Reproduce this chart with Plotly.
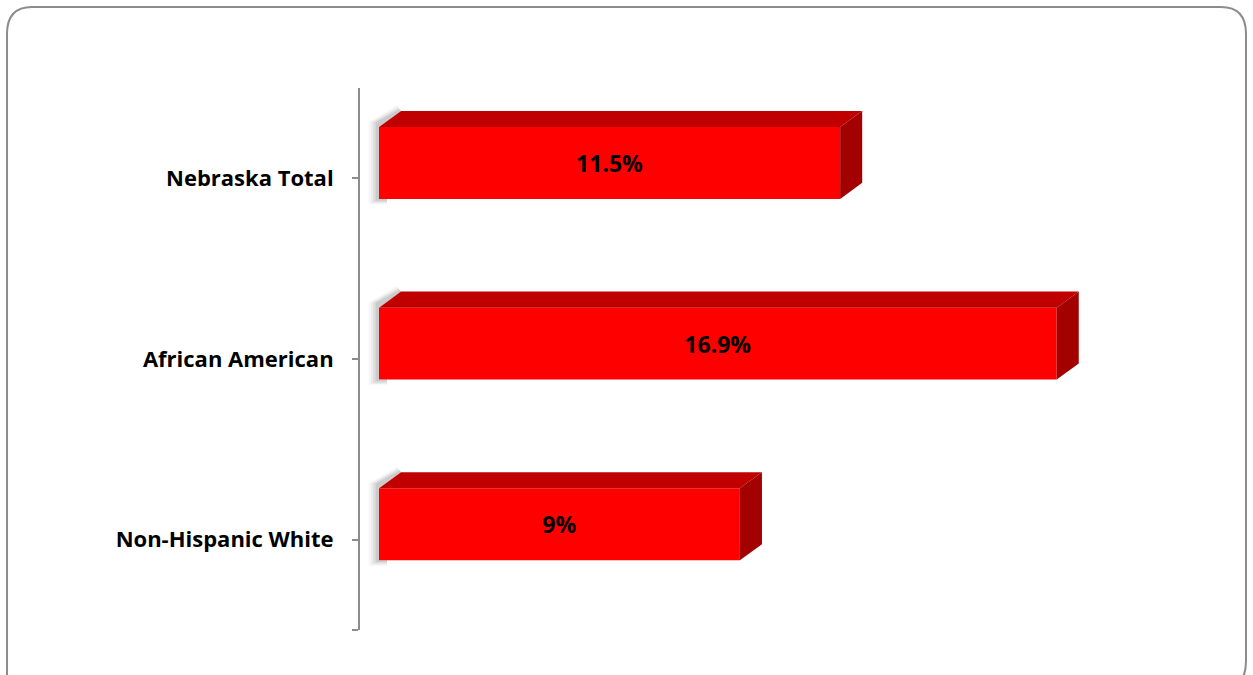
import plotly.graph_objects as go

# Data
categories = ["Non-Hispanic White", "African American", "Nebraska Total"]
values = [9, 16.9, 11.5]
value_labels = ["9%", "16.9%", "11.5%"]

positions = list(range(len(categories)))

W, H = 1253, 675
FONT = "Open Sans"

# bar geometry (data units)
bar_w = 0.398
bar_off = -0.114
depth_x = 0.55
depth_y = 0.089

FRONT = "#FF0000"
TOP = "#C00000"
SIDE = "#A30000"

fig = go.Figure()

# soft shadow around the left edge of each bar (kept outside the front face)
for p, v in zip(positions, values):
    lo = p + bar_off
    hi = lo + bar_w
    for sx, op in [(0.26, 0.05), (0.20, 0.07), (0.14, 0.10), (0.08, 0.13)]:
        e = sx * 0.12
        xs = [-sx, depth_x - sx * 0.4, depth_x, 0, 0, 0.2, 0.2, -sx, -sx]
        ys = [hi + depth_y * 0.3, hi + depth_y + e, hi + depth_y, hi,
              lo, lo, lo - e, lo - e, hi + depth_y * 0.3]
        fig.add_trace(go.Scatter(x=xs, y=ys, fill="toself", mode="none",
                                 fillcolor=f"rgba(90,90,90,{op})",
                                 hoverinfo="skip", showlegend=False))

# top and side faces of the 3D bars
for p, v in zip(positions, values):
    lo = p + bar_off
    hi = lo + bar_w
    fig.add_trace(go.Scatter(
        x=[0, v, v + depth_x, depth_x, 0],
        y=[hi, hi, hi + depth_y, hi + depth_y, hi],
        fill="toself", mode="none", fillcolor=TOP,
        hoverinfo="skip", showlegend=False))
    fig.add_trace(go.Scatter(
        x=[v, v + depth_x, v + depth_x, v, v],
        y=[lo, lo + depth_y, hi + depth_y, hi, lo],
        fill="toself", mode="none", fillcolor=SIDE,
        hoverinfo="skip", showlegend=False))

# front faces with value labels
fig.add_trace(go.Bar(
    x=values, y=positions, orientation="h",
    width=bar_w, offset=bar_off,
    marker=dict(color=FRONT, line=dict(width=0)),
    text=value_labels, textposition="inside", insidetextanchor="middle",
    textangle=0,
    textfont=dict(family=FONT, size=23, color="black", weight="bold"),
    showlegend=False, hoverinfo="skip"))

x0_px, px_per_unit = 379, 40.1
left_px, right_px = 360, 1140
top_px, bottom_px = 88, 630

fig.update_layout(
    width=W, height=H,
    margin=dict(l=0, r=0, t=0, b=0),
    paper_bgcolor="white", plot_bgcolor="white",
    showlegend=False,
    xaxis=dict(
        domain=[left_px / W, right_px / W],
        range=[(left_px - x0_px) / px_per_unit, (right_px - x0_px) / px_per_unit],
        visible=False, fixedrange=True),
    yaxis=dict(
        domain=[1 - bottom_px / H, 1 - top_px / H],
        range=[-0.5, len(categories) - 0.5],
        tickvals=[-0.5] + positions,
        ticktext=[""] + categories,
        ticks="outside", ticklen=6, tickwidth=2, tickcolor="#8C8C8C",
        showline=True, linecolor="#8C8C8C", linewidth=2,
        showgrid=False, zeroline=False,
        ticklabelstandoff=14,
        tickfont=dict(family=FONT, size=22, color="black", weight="bold")),
    shapes=[dict(
        type="path", xref="paper", yref="paper",
        path=("M 0.0056,-0.05 L 0.0056,0.95 "
              "Q 0.0056,0.9896 0.0256,0.9896 "
              "L 0.9744,0.9896 Q 0.9944,0.9896 0.9944,0.95 "
              "L 0.9944,0.02 Q 0.9944,-0.02 0.9744,-0.02"),
        line=dict(color="#8C8C8C", width=2))],
)

fig.write_html("out.html")
